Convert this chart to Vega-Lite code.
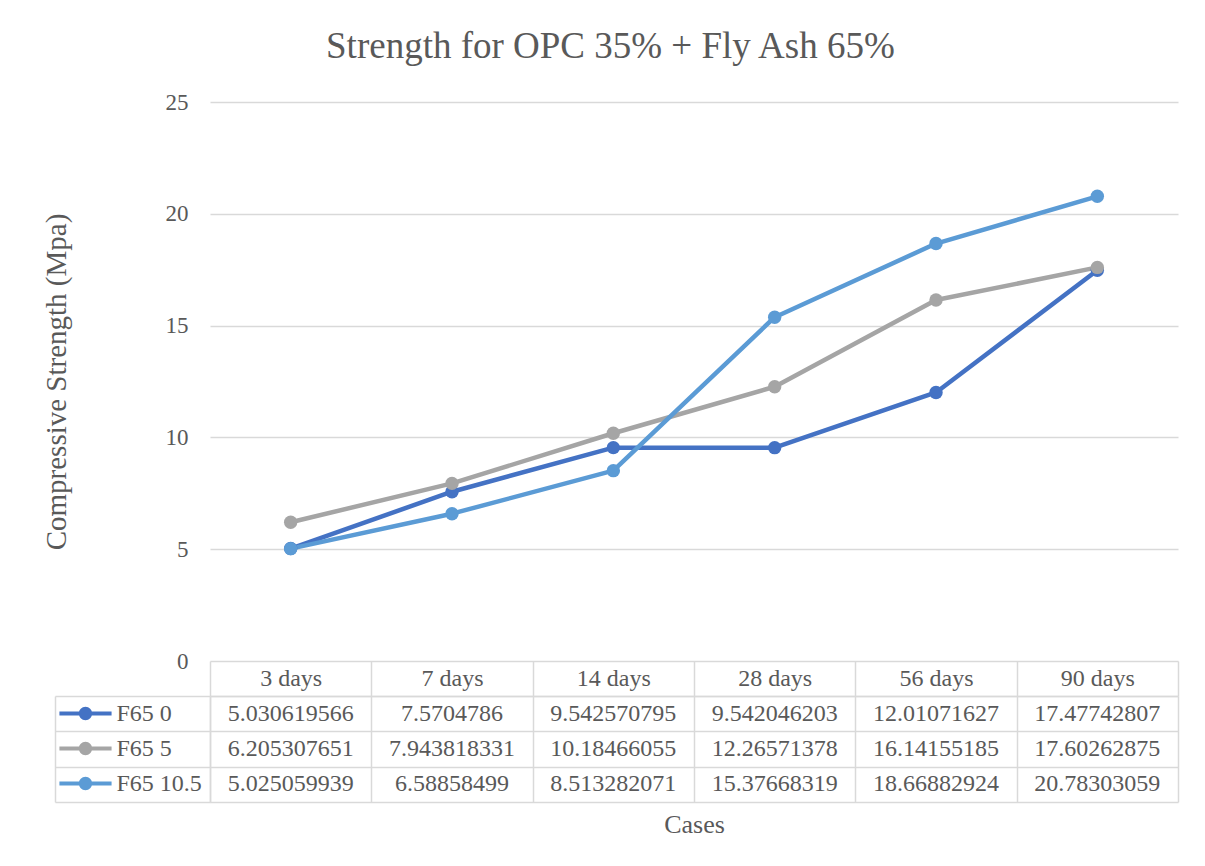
{
  "$schema": "https://vega.github.io/schema/vega-lite/v6.json",
  "padding": {"left": 42, "top": 28, "right": 5, "bottom": 5},
  "background": "white",
  "title": {"text": "Strength for OPC 35% + Fly Ash 65%", "font": "Liberation Serif", "fontSize": 37, "fontWeight": "normal", "color": "#595959", "offset": 25, "anchor": "middle"},
  "config": {"view": {"stroke": null}, "font": "Liberation Serif"},
  "datasets": {
    "strength": [
      {"series": "F65 0", "day": "3 days", "value": 5.030619566},
      {"series": "F65 0", "day": "7 days", "value": 7.5704786},
      {"series": "F65 0", "day": "14 days", "value": 9.542570795},
      {"series": "F65 0", "day": "28 days", "value": 9.542046203},
      {"series": "F65 0", "day": "56 days", "value": 12.01071627},
      {"series": "F65 0", "day": "90 days", "value": 17.47742807},
      {"series": "F65 5", "day": "3 days", "value": 6.205307651},
      {"series": "F65 5", "day": "7 days", "value": 7.943818331},
      {"series": "F65 5", "day": "14 days", "value": 10.18466055},
      {"series": "F65 5", "day": "28 days", "value": 12.26571378},
      {"series": "F65 5", "day": "56 days", "value": 16.14155185},
      {"series": "F65 5", "day": "90 days", "value": 17.60262875},
      {"series": "F65 10.5", "day": "3 days", "value": 5.025059939},
      {"series": "F65 10.5", "day": "7 days", "value": 6.58858499},
      {"series": "F65 10.5", "day": "14 days", "value": 8.513282071},
      {"series": "F65 10.5", "day": "28 days", "value": 15.37668319},
      {"series": "F65 10.5", "day": "56 days", "value": 18.66882924},
      {"series": "F65 10.5", "day": "90 days", "value": 20.78303059}
    ]
  },
  "bounds": "flush",
  "spacing": 35,
  "resolve": {"scale": {"color": "independent"}, "legend": {"color": "independent"}},
  "vconcat": [
    {
      "width": 968,
      "height": 559,
      "data": {"name": "strength"},
      "encoding": {
        "x": {"field": "day", "type": "ordinal", "sort": ["3 days", "7 days", "14 days", "28 days", "56 days", "90 days"], "scale": {"type": "point", "padding": 0.5}, "axis": null},
        "y": {"field": "value", "type": "quantitative", "scale": {"domain": [0, 25], "nice": false},
          "axis": {"values": [0, 5, 10, 15, 20, 25], "title": "Compressive Strength (Mpa)", "titleFont": "Liberation Serif", "titleFontSize": 29, "titleFontWeight": "normal", "titleColor": "#595959", "titlePadding": 94,
            "labelFont": "Liberation Serif", "labelFontSize": 23, "labelColor": "#595959", "labelPadding": 22, "ticks": false, "domain": false, "grid": true, "gridColor": "#d9d9d9", "gridWidth": 1.3}},
        "color": {"field": "series", "type": "nominal", "sort": ["F65 0", "F65 5", "F65 10.5"], "scale": {"domain": ["F65 0", "F65 5", "F65 10.5"], "range": ["#4472c4", "#a5a5a5", "#5b9bd5"]}, "legend": null}
      },
      "layer": [
        {"mark": {"type": "line", "strokeWidth": 4.5, "strokeCap": "round", "strokeJoin": "round"}},
        {"mark": {"type": "point", "filled": true, "size": 180, "opacity": 1}}
      ]
    },
    {
      "width": 968,
      "height": 106,
      "data": {"name": "strength"},
      "resolve": {"axis": {"x": "independent", "y": "independent"}},
      "layer": [
        {
          "mark": {"type": "text", "font": "Liberation Serif", "fontSize": 24, "color": "#595959"},
          "encoding": {
            "x": {"field": "day", "type": "ordinal", "sort": ["3 days", "7 days", "14 days", "28 days", "56 days", "90 days"], "scale": {"type": "band", "paddingInner": 0, "paddingOuter": 0},
              "axis": {"orient": "top", "title": null, "tickBand": "extent", "tickSize": 35, "tickColor": "#d9d9d9", "tickWidth": 1.5, "labelPadding": -17, "labelBaseline": "middle", "labelAngle": 0, "labelFont": "Liberation Serif", "labelFontSize": 24, "labelColor": "#595959", "domainColor": "#d9d9d9", "domainWidth": 1.5, "grid": true, "gridColor": "#d9d9d9", "gridWidth": 1.5}},
            "y": {"field": "series", "type": "nominal", "sort": ["F65 0", "F65 5", "F65 10.5"], "scale": {"type": "band", "paddingInner": 0, "paddingOuter": 0},
              "axis": {"title": null, "labels": false, "tickBand": "extent", "tickSize": 155, "tickColor": "#d9d9d9", "tickWidth": 1.5, "domainColor": "#d9d9d9", "domainWidth": 1.5, "grid": true, "gridColor": "#d9d9d9", "gridWidth": 1.5}},
            "text": {"field": "value", "type": "nominal"}
          }
        },
        {
          "mark": {"type": "point", "filled": true, "opacity": 0},
          "encoding": {
            "x": {"field": "day", "type": "ordinal", "sort": ["3 days", "7 days", "14 days", "28 days", "56 days", "90 days"],
              "axis": {"orient": "bottom", "title": "Cases", "titleFont": "Liberation Serif", "titleFontSize": 26, "titleFontWeight": "normal", "titleColor": "#595959", "titlePadding": 9, "labels": false, "ticks": false, "domain": false, "grid": false}},
            "y": {"field": "series", "type": "nominal", "sort": ["F65 0", "F65 5", "F65 10.5"],
              "axis": {"orient": "left", "offset": 155, "title": null, "labels": false, "ticks": false, "grid": false, "domainColor": "#d9d9d9", "domainWidth": 1.5}},
            "color": {"field": "series", "type": "nominal", "sort": ["F65 0", "F65 5", "F65 10.5"], "scale": {"domain": ["F65 0", "F65 5", "F65 10.5"], "range": ["#4472c4", "#a5a5a5", "#5b9bd5"]},
              "legend": {"orient": "left", "title": null, "offset": -148, "padding": 0, "rowPadding": 0,
                "symbolType": "M0,-1M0,1M-1.49,-0.12H1.49V0.12H-1.49Z M-0.38,0A0.38,0.38 0 1,1 0.38,0A0.38,0.38 0 1,1 -0.38,0Z",
                "symbolSize": 1225, "symbolStrokeWidth": 0, "symbolOpacity": 1,
                "labelFont": "Liberation Serif", "labelFontSize": 24, "labelColor": "#595959", "labelOffset": 13.5}}
          }
        }
      ]
    }
  ]
}
